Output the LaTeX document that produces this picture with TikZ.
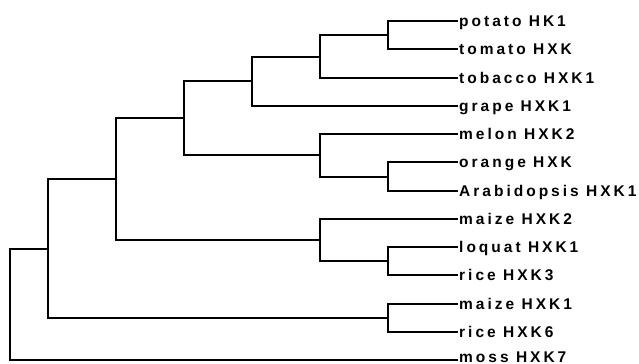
\documentclass[tikz,border=0pt]{standalone}
\usepackage{fontspec}
\newfontfamily\leaffont{Liberation Sans}
% tracked word: a fixed kern after every glyph
\def\trackA#1{\ifx\relax#1\else#1\kern3bp\relax\expandafter\trackA\fi}
\newcommand\trackword[1]{\edef\trackedtmp{#1}\expandafter\trackA\trackedtmp\relax}
\begin{document}
\begin{tikzpicture}[x=1bp,y=-1bp,
    branch/.style={draw=black,line width=2bp,line cap=rect},
    leaflabel/.style={anchor=base west,inner sep=0pt,
      font=\leaffont\bfseries\fontsize{15.5bp}{19bp}\selectfont}]
  \useasboundingbox (0,0) rectangle (639,363);

  % leaf tips (x = 457)
  \def\tipx{457}
  \foreach \name/\y in {potato/21,tomato/49,tobacco/78,grape/106,melon/134,orange/162,
      arab/191,maizeB/219,loquat/247,riceC/275,maizeA/304,riceF/332,moss/360}
    \coordinate (\name) at (\tipx,\y);

  % internal vertices (each at the middle of its two children)
  \coordinate (n1)  at (388,35);
  \coordinate (n2)  at (320,56.5);
  \coordinate (n3)  at (252,81.25);
  \coordinate (n4)  at (388,176.5);
  \coordinate (n5)  at (320,155.25);
  \coordinate (n6)  at (184,118.25);
  \coordinate (n7)  at (388,261);
  \coordinate (n8)  at (320,240);
  \coordinate (n9)  at (116,179.1);
  \coordinate (n10) at (388,318);
  \coordinate (n11) at (48,248.6);
  \coordinate (root) at (10,304.3);

  % rectangular (elbow) branches
  \foreach \p/\c in {n1/potato,n1/tomato,n2/n1,n2/tobacco,n3/n2,n3/grape,
      n4/orange,n4/arab,n5/melon,n5/n4,n6/n3,n6/n5,
      n7/loquat,n7/riceC,n8/maizeB,n8/n7,n9/n6,n9/n8,
      n10/maizeA,n10/riceF,n11/n9,n11/n10,root/n11,root/moss}
    \draw[branch] (\p) |- (\c);

  % leaf labels: species name, gene name, baseline below the branch
  \foreach \name/\wa/\wb/\dy in {potato/potato/HK1/5.5,tomato/tomato/HXK/5.5,
      tobacco/tobacco/HXK1/5.5,grape/grape/HXK1/5.5,melon/melon/HXK2/5.5,
      orange/orange/HXK/5.5,arab/Arabidopsis/HXK1/5.5,maizeB/maize/HXK2/5.5,
      loquat/loquat/HXK1/5.5,riceC/rice/HXK3/5.5,maizeA/maize/HXK1/5.5,
      riceF/rice/HXK6/5.5,moss/moss/HXK7/2.5}
    \node[leaflabel] (\name-label) at ([xshift=2bp,yshift=-\dy bp]\name)
      {\trackword{\wa} \trackword{\wb}};
\end{tikzpicture}
\end{document}
